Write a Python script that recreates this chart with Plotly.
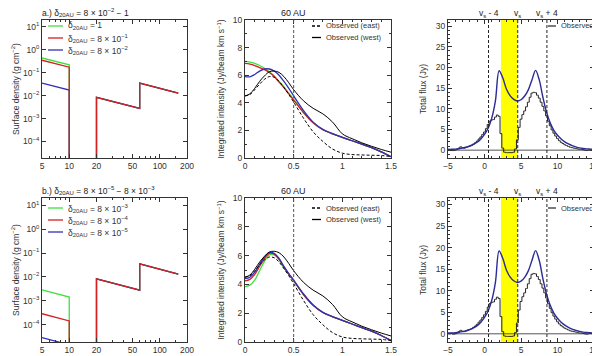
import plotly.graph_objects as go

# ---- panel a / b : surface density vs radius ----
r_inner = [5, 10, 10]
r_outer = [20, 20, 60, 60, 160]
sigma_outer = [1e-9, 0.0084, 0.0028, 0.035, 0.013]

sig_a_green = [0.44, 0.22, 1e-9]
sig_a_red = [0.35, 0.175, 1e-9]
sig_a_blue = [0.035, 0.0175, 1e-9]
sig_b_green = [0.0029, 0.00145, 1e-9]
sig_b_red = [0.00029, 0.000145, 1e-9]
sig_b_blue = [2.9e-5, 1.45e-5, 1e-9]

names_a = ["δ<sub>20AU</sub> = 1", "δ<sub>20AU</sub> = 8 × 10<sup>−1</sup>", "δ<sub>20AU</sub> = 8 × 10<sup>−2</sup>"]
names_b = ["δ<sub>20AU</sub> = 8 × 10<sup>−3</sup>", "δ<sub>20AU</sub> = 8 × 10<sup>−4</sup>", "δ<sub>20AU</sub> = 8 × 10<sup>−5</sup>"]

# ---- integrated intensity vs offset ----
offset = [0, 0.05, 0.1, 0.15, 0.2, 0.25, 0.3, 0.35, 0.4, 0.45, 0.5,
          0.6, 0.7, 0.8, 0.9, 1.0, 1.1, 1.2, 1.3, 1.4, 1.5]
obs_west = [4.5, 4.65, 5.05, 5.55, 5.95, 6.25, 6.3, 6.2, 5.9, 5.45, 4.95,
            4.15, 3.6, 3.2, 2.6, 1.75, 1.4, 1.1, 0.85, 0.62, 0.42]
obs_east = [4.5, 4.6, 4.95, 5.35, 5.7, 5.9, 5.85, 5.55, 5.1, 4.6, 4.05,
            2.9, 1.9, 1.2, 0.65, 0.35, 0.25, 0.22, 0.2, 0.18, 0.1]
ii_a_green = [7.0, 6.95, 6.85, 6.7, 6.5, 6.25, 5.95, 5.55, 5.15, 4.7, 4.25,
              3.3, 2.55, 2.05, 1.75, 1.5, 1.25, 1.0, 0.75, 0.45, 0.1]
ii_a_red = [6.85, 6.8, 6.7, 6.55, 6.4, 6.2, 5.9, 5.5, 5.1, 4.65, 4.2,
            3.3, 2.55, 2.05, 1.75, 1.5, 1.25, 1.0, 0.75, 0.45, 0.1]
ii_a_blue = [5.9, 5.88, 6.05, 6.3, 6.45, 6.45, 6.3, 6.0, 5.55, 5.05, 4.5,
             3.45, 2.6, 2.07, 1.77, 1.5, 1.25, 1.0, 0.75, 0.45, 0.1]
ii_b_green = [3.85, 3.95, 4.3, 4.95, 5.6, 6.05, 6.05, 5.7, 5.15, 4.7, 4.25,
              3.3, 2.55, 2.05, 1.75, 1.5, 1.25, 1.0, 0.75, 0.45, 0.1]
ii_b_red = [4.25, 4.35, 4.7, 5.25, 5.8, 6.15, 6.1, 5.75, 5.2, 4.72, 4.27,
            3.3, 2.55, 2.05, 1.75, 1.5, 1.25, 1.0, 0.75, 0.45, 0.1]
ii_b_blue = [4.4, 4.5, 4.85, 5.4, 5.9, 6.2, 6.15, 5.8, 5.25, 4.75, 4.3,
             3.35, 2.57, 2.06, 1.76, 1.5, 1.25, 1.0, 0.75, 0.45, 0.1]

# ---- total flux spectra ----
vel_model = [-5 + 0.5 * i for i in range(41)]
flux_model = [0.2, 0.2, 0.25, 0.35, 0.5, 0.7, 1.0, 1.4, 1.9, 2.7, 3.8,
              5.3, 7.8, 12.0, 19.2, 17.5, 14.8, 13.2, 12.3, 11.9, 12.2,
              13.1, 14.6, 17.0, 19.3, 17.0, 12.8, 9.2, 6.6, 4.8, 3.6,
              2.7, 2.0, 1.5, 1.1, 0.8, 0.55, 0.4, 0.3, 0.25, 0.2]
vel_obs = [-5 + 0.25 * i for i in range(81)]
flux_obs = [0.0, 0.0, 0.1, -0.1, 0.0, 0.2, 0.5, 0.8, 0.6, 0.5, 0.7, 0.9, 1.0,
            1.2, 1.5, 1.8, 2.2, 2.7, 3.2, 3.8, 4.4, 5.2, 6.2, 7.0, 7.3, 7.4,
            8.0, 8.5, 8.2, 4.0, 0.5, -0.5, -0.6, -0.6, -0.6, -0.6, -0.5, 0.3,
            2.5, 5.5, 7.5, 8.6, 9.5, 10.5, 11.6, 12.8, 13.8, 14.0, 13.9, 13.3,
            12.6, 11.6, 10.6, 9.5, 8.3, 7.0, 5.9, 4.9, 4.1, 3.4, 2.8, 2.3, 1.9,
            1.6, 1.3, 1.1, 0.9, 0.7, 0.6, 0.5, 0.4, 0.3, 0.2, 0.2, 0.1, 0.0,
            -0.1, 0.0, 0.1, 0.0, 0.0]
v_sys = 4.55
band = [2.25, 4.55]
vlines = [v_sys - 4, v_sys, v_sys + 4]
vlabels = ["v<sub>s</sub> - 4", "v<sub>s</sub>", "v<sub>s</sub> + 4"]

GREEN = "#3ee03e"
RED = "#d42020"
BLUE = "#3030b8"
FONT = "Liberation Sans"
DASH = "3px,2px"

# the page body has an 8px margin, so lay out in window pixels minus that
OFF = 8
W, H = 600 - OFF, 356 - OFF


def px(x):
    return (x - OFF) / W


def py(y):
    return 1 - (y - OFF) / H


fig = go.Figure()

xdom = [(px(42), px(187)), (px(245), px(391)), (px(448), px(594))]
ydom = [(py(158), py(20)), (py(342), py(198))]
leg_top = [26, 208]

rows = [
    dict(sig=[sig_a_green, sig_a_red, sig_a_blue], names=names_a,
         ii=[ii_a_green, ii_a_red, ii_a_blue],
         title="a.) δ<sub>20AU</sub> = 8 × 10<sup>−2</sup> − 1"),
    dict(sig=[sig_b_green, sig_b_red, sig_b_blue], names=names_b,
         ii=[ii_b_green, ii_b_red, ii_b_blue],
         title="b.) δ<sub>20AU</sub> = 8 × 10<sup>−5</sup> − 8 × 10<sup>−3</sup>"),
]

colors = [GREEN, RED, BLUE]
layout = {}
shapes = []
annots = []


def legend_entry(x0, x1, y, text, color, dash="solid", size=7.5):
    # small legend key: short line sample plus label, in window pixels
    shapes.append(dict(type="line", xref="paper", yref="paper", x0=px(x0), x1=px(x1),
                       y0=py(y), y1=py(y), line=dict(color=color, width=1.3, dash=dash)))
    annots.append(dict(text=text, xref="paper", yref="paper", x=px(x1 + 3), y=py(y),
                       xanchor="left", yanchor="middle", showarrow=False,
                       font=dict(family=FONT, size=size, color="#333")))


for ri, row in enumerate(rows):
    n1, n2, n3 = ri * 3 + 1, ri * 3 + 2, ri * 3 + 3
    ax = lambda n: "" if n == 1 else str(n)
    ly = leg_top[ri]
    # surface density: draw blue under red where they overlap
    for ci in [0, 2, 1]:
        fig.add_trace(go.Scatter(
            x=r_inner + r_outer, y=row["sig"][ci] + sigma_outer,
            mode="lines", line=dict(color=colors[ci], width=1.3),
            name=row["names"][ci], xaxis="x" + ax(n1), yaxis="y" + ax(n1)))
    for ci in range(3):
        legend_entry(48, 63, ly + 12 * ci, row["names"][ci], colors[ci], size=8.5)
    # integrated intensity
    for ci in [0, 1, 2]:
        fig.add_trace(go.Scatter(
            x=offset, y=row["ii"][ci], mode="lines", line_shape="spline",
            line=dict(color=colors[ci], width=1.3),
            xaxis="x" + ax(n2), yaxis="y" + ax(n2)))
    fig.add_trace(go.Scatter(
        x=offset, y=obs_east, mode="lines", line_shape="spline",
        line=dict(color="black", width=1, dash=DASH), name="Observed (east)",
        xaxis="x" + ax(n2), yaxis="y" + ax(n2)))
    fig.add_trace(go.Scatter(
        x=offset, y=obs_west, mode="lines", line_shape="spline",
        line=dict(color="black", width=1), name="Observed (west)",
        xaxis="x" + ax(n2), yaxis="y" + ax(n2)))
    legend_entry(312, 321, ly, "Observed (east)", "black", DASH)
    legend_entry(312, 321, ly + 11.5, "Observed (west)", "black")
    # total flux
    fig.add_trace(go.Scatter(
        x=vel_obs, y=flux_obs, mode="lines", line_shape="hvh",
        line=dict(color="#222222", width=1), name="Observed",
        xaxis="x" + ax(n3), yaxis="y" + ax(n3)))
    fig.add_trace(go.Scatter(
        x=vel_model, y=flux_model, mode="lines", line_shape="spline",
        line=dict(color="#2b2b96", width=1.4),
        xaxis="x" + ax(n3), yaxis="y" + ax(n3)))
    legend_entry(548, 556, ly, "Observed", "#333")

    common = dict(showline=True, linecolor="#333", linewidth=1, mirror="ticks",
                  ticks="inside", ticklen=4, tickcolor="#333", showgrid=False,
                  zeroline=False, automargin=False, tickfont=dict(size=8.5, color="#333"))
    minor = dict(ticks="inside", ticklen=2, tickcolor="#333")
    tfont = dict(size=8.5, color="#333")

    layout["xaxis" + ax(n1)] = dict(common, type="log", domain=xdom[0], anchor="y" + ax(n1),
                                    range=[0.699, 2.301], tickvals=[5, 10, 20, 50, 100, 200],
                                    minor=dict(minor, tickvals=[6, 7, 8, 9, 30, 40, 60, 70, 80, 90, 150]))
    layout["yaxis" + ax(n1)] = dict(common, type="log", domain=ydom[ri], anchor="x" + ax(n1),
                                    range=[-4.72, 1.3],
                                    tickvals=[1e1, 1, 1e-1, 1e-2, 1e-3, 1e-4],
                                    ticktext=["10<sup>1</sup>", "10<sup>0</sup>", "10<sup>−1</sup>",
                                              "10<sup>−2</sup>", "10<sup>−3</sup>", "10<sup>−4</sup>"],
                                    title=dict(font=tfont, standoff=2,
                                               text="Surface density (g cm<sup>−2</sup>)"))
    layout["xaxis" + ax(n2)] = dict(common, domain=xdom[1], anchor="y" + ax(n2), range=[0, 1.5],
                                    tickvals=[0, 0.5, 1, 1.5], ticktext=["0", "0.5", "1", "1.5"],
                                    minor=dict(minor, dtick=0.1))
    layout["yaxis" + ax(n2)] = dict(common, domain=ydom[ri], anchor="x" + ax(n2), range=[0, 10],
                                    dtick=2, minor=dict(minor, dtick=1),
                                    title=dict(font=tfont, standoff=6,
                                               text="Integrated intensity (Jy/beam km s<sup>−1</sup>)"))
    layout["xaxis" + ax(n3)] = dict(common, domain=xdom[2], anchor="y" + ax(n3), range=[-5, 15],
                                    tickvals=[-5, 0, 5, 10, 15], ticktext=["−5", "0", "5", "10", "15"],
                                    minor=dict(minor, dtick=1))
    layout["yaxis" + ax(n3)] = dict(common, domain=ydom[ri], anchor="x" + ax(n3), range=[-1.9, 31.5],
                                    dtick=5, minor=dict(minor, dtick=1),
                                    title=dict(font=tfont, standoff=7, text="Total flux (Jy)"))

    top = ydom[ri][1]
    annots.append(dict(text=row["title"], xref="paper", yref="paper", x=px(40),
                       y=top, xanchor="left", yanchor="bottom", showarrow=False,
                       font=dict(family=FONT, size=8.5, color="#222")))
    annots.append(dict(text="60 AU", xref="x" + ax(n2), yref="paper", x=0.5, y=top,
                       xanchor="center", yanchor="bottom", showarrow=False,
                       font=dict(family=FONT, size=9, color="#222")))
    shapes.append(dict(type="line", xref="x" + ax(n2), yref="y" + ax(n2), x0=0.5, x1=0.5,
                       y0=0, y1=10, line=dict(color="#555", width=1, dash=DASH)))
    shapes.append(dict(type="rect", xref="x" + ax(n3), yref="y" + ax(n3), x0=band[0], x1=band[1],
                       y0=-1.9, y1=31.5, fillcolor="#ffff00", line_width=0, layer="below"))
    shapes.append(dict(type="line", xref="x" + ax(n3), yref="y" + ax(n3), x0=-5, x1=15,
                       y0=0, y1=0, line=dict(color="#555", width=1), layer="below"))
    for v, lab in zip(vlines, vlabels):
        shapes.append(dict(type="line", xref="x" + ax(n3), yref="y" + ax(n3), x0=v, x1=v,
                           y0=-1.9, y1=31.5, line=dict(color="#222", width=1, dash=DASH)))
        annots.append(dict(text=lab, xref="x" + ax(n3), yref="paper", x=v, y=top - 1 / H,
                           xanchor="center", yanchor="bottom", showarrow=False,
                           font=dict(family=FONT, size=8.5, color="#222")))

fig.update_layout(
    width=W, height=H, margin=dict(l=0, r=0, t=0, b=0),
    paper_bgcolor="white", plot_bgcolor="white", showlegend=False,
    font=dict(family=FONT, size=8.5, color="#333"),
    shapes=shapes, annotations=annots, **layout)

fig.write_html("out.html")
